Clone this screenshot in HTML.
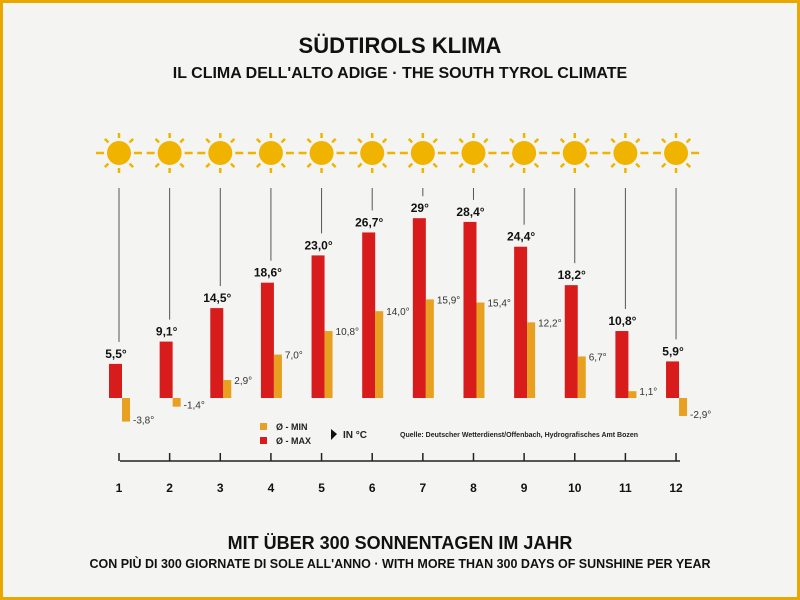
<!DOCTYPE html>
<html><head><meta charset="utf-8"><style>
html,body{margin:0;padding:0;background:#f4f4f2}
svg{display:block}
</style></head><body>
<svg id="s" width="800" height="600" xmlns="http://www.w3.org/2000/svg" font-family="Liberation Sans, DejaVu Sans, sans-serif">
<rect x="1.5" y="1.5" width="797" height="597" fill="#f4f4f2" stroke="#e8a800" stroke-width="3"/>
<text x="400" y="53" text-anchor="middle" font-size="22" font-weight="bold" fill="#111">SÜDTIROLS KLIMA</text>
<text x="400" y="78" text-anchor="middle" font-size="16" font-weight="bold" fill="#111">IL CLIMA DELL'ALTO ADIGE · THE SOUTH TYROL CLIMATE</text>
<text x="400" y="549" text-anchor="middle" font-size="18" font-weight="bold" fill="#111">MIT ÜBER 300 SONNENTAGEN IM JAHR</text>
<text x="400" y="568" text-anchor="middle" font-size="12.5" font-weight="bold" fill="#111">CON PIÙ DI 300 GIORNATE DI SOLE ALL'ANNO · WITH MORE THAN 300 DAYS OF SUNSHINE PER YEAR</text>
<g id="g"></g>
<line x1="120" y1="461" x2="680" y2="461" stroke="#222" stroke-width="1.5"/>
<rect x="260" y="423" width="7" height="7" fill="#e8a020"/>
<rect x="260" y="437" width="7" height="7" fill="#d81c1c"/>
<text x="276" y="430" font-size="9" font-weight="bold" fill="#222">Ø - MIN</text>
<text x="276" y="444" font-size="9" font-weight="bold" fill="#222">Ø - MAX</text>
<polygon points="331,429 337,434 331,440" fill="#111"/>
<text x="343" y="438" font-size="10" font-weight="bold" fill="#222">IN °C</text>
<text x="400" y="437" font-size="7" font-weight="bold" fill="#222">Quelle: Deutscher Wetterdienst/Offenbach, Hydrografisches Amt Bozen</text>
</svg>
<script>
(function(){
var mx=[5.5,9.1,14.5,18.6,23.0,26.7,29,28.4,24.4,18.2,10.8,5.9];
var mn=[-3.8,-1.4,2.9,7.0,10.8,14.0,15.9,15.4,12.2,6.7,1.1,-2.9];
var mxl=["5,5°","9,1°","14,5°","18,6°","23,0°","26,7°","29°","28,4°","24,4°","18,2°","10,8°","5,9°"];
var mnl=["-3,8°","-1,4°","2,9°","7,0°","10,8°","14,0°","15,9°","15,4°","12,2°","6,7°","1,1°","-2,9°"];
var h="",z=398,k=6.2,sy=153;
for(var i=0;i<12;i++){
 var c=119+i*50.64;
 h+='<circle cx="'+c+'" cy="'+sy+'" r="12" fill="#f0b400"/>';
 for(var a=0;a<8;a++){var t=a*Math.PI/4,r1=15,r2=(a%4==0)?23:20;
  h+='<line x1="'+(c+r1*Math.cos(t))+'" y1="'+(sy+r1*Math.sin(t))+'" x2="'+(c+r2*Math.cos(t))+'" y2="'+(sy+r2*Math.sin(t))+'" stroke="#f0b400" stroke-width="2.5"/>';}
 var tp=z-mx[i]*k;
 h+='<line x1="'+c+'" y1="188" x2="'+c+'" y2="'+(tp-22)+'" stroke="#555" stroke-width="1"/>';
 h+='<rect x="'+(c-10)+'" y="'+tp+'" width="13" height="'+(z-tp)+'" fill="#d81c1c"/>';
 var my=z-mn[i]*k, y0=Math.min(z,my), hh=Math.abs(mn[i]*k);
 h+='<rect x="'+(c+3)+'" y="'+y0+'" width="8" height="'+hh+'" fill="#e8a020"/>';
 h+='<text x="'+(c-3)+'" y="'+(tp-6)+'" text-anchor="middle" font-size="12" font-weight="bold" fill="#111">'+mxl[i]+'</text>';
 var ly=mn[i]<0?my+2:my+4;
 h+='<text x="'+(c+14)+'" y="'+ly+'" font-size="10" fill="#333">'+mnl[i]+'</text>';
 h+='<line x1="'+c+'" y1="453" x2="'+c+'" y2="461" stroke="#222" stroke-width="1.5"/>';
 h+='<text x="'+c+'" y="492" text-anchor="middle" font-size="12" font-weight="bold" fill="#111">'+(i+1)+'</text>';
}
document.getElementById('g').innerHTML=h;
})();
</script>
</body></html>
